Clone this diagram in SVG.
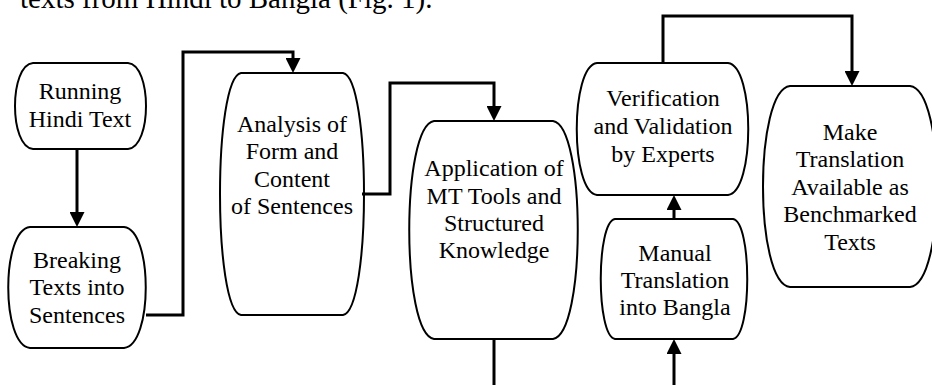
<svg xmlns="http://www.w3.org/2000/svg" width="932" height="385" viewBox="0 0 932 385" font-family="Liberation Serif, Times New Roman, serif">
<style>
  .box { fill: #fff; stroke: #000; stroke-width: 2; stroke-linejoin: round; }
  .lbl { font-size: 24px; fill: #000; text-anchor: middle; }
  .body { font-size: 29px; fill: #000; }
  .conn { fill: none; stroke: #000; stroke-width: 3; stroke-linejoin: miter; }
</style>
<defs>
  <marker id="arr" markerUnits="userSpaceOnUse" viewBox="0 0 15 15" markerWidth="15" markerHeight="15" refX="7" refY="7.5" orient="auto">
    <path d="M0,0 L15,7.5 L0,15 Z" fill="#000"/>
  </marker>
</defs>
<rect width="932" height="385" fill="#fff"/>
<text class="body" x="20" y="7.5">texts from Hindi to Bangla (Fig. 1).</text>

<g id="n-running">
  <path class="box" d="M33,63 H128 C152,65 152,147 128,149 H33 C9,147 9,65 33,63 Z"/>
  <text class="lbl" x="80" y="99">Running</text>
  <text class="lbl" x="80" y="126.5">Hindi Text</text>
</g>
<g id="n-breaking">
  <path class="box" d="M30,227 H124 C153,230 153,345 124,348 H30 C1,345 1,230 30,227 Z"/>
  <text class="lbl" x="77" y="267.5">Breaking</text>
  <text class="lbl" x="77" y="295">Texts into</text>
  <text class="lbl" x="77" y="322.5">Sentences</text>
</g>
<g id="n-analysis">
  <path class="box" d="M241,73 H343 C371,78 371,310 343,315 H241 C213,310 213,78 241,73 Z"/>
  <text class="lbl" x="292" y="131.5">Analysis of</text>
  <text class="lbl" x="292" y="159">Form and</text>
  <text class="lbl" x="292" y="186.5">Content</text>
  <text class="lbl" x="292" y="214">of Sentences</text>
</g>
<g id="n-application">
  <path class="box" d="M434,121 H553 C586,126 586,334 553,339 H434 C401,334 401,126 434,121 Z"/>
  <text class="lbl" x="494" y="176">Application of</text>
  <text class="lbl" x="494" y="203.5">MT Tools and</text>
  <text class="lbl" x="494" y="230.5">Structured</text>
  <text class="lbl" x="494" y="257.5">Knowledge</text>
</g>
<g id="n-verification">
  <path class="box" d="M597,63 H728 C755,66 755,192 728,195 H597 C570,192 570,66 597,63 Z"/>
  <text class="lbl" x="663" y="106">Verification</text>
  <text class="lbl" x="663" y="134">and Validation</text>
  <text class="lbl" x="663" y="161.5">by Experts</text>
</g>
<g id="n-manual">
  <path class="box" d="M615,219 H733 C752,222 752,336 733,339 H615 C596,336 596,222 615,219 Z"/>
  <text class="lbl" x="675" y="260.5">Manual</text>
  <text class="lbl" x="675" y="288">Translation</text>
  <text class="lbl" x="675" y="315">into Bangla</text>
</g>
<g id="n-make">
  <path class="box" d="M790,86 H910 C946,90 946,283 910,287 H790 C754,283 754,90 790,86 Z"/>
  <text class="lbl" x="850" y="139.5">Make</text>
  <text class="lbl" x="850" y="167">Translation</text>
  <text class="lbl" x="850" y="194.5">Available as</text>
  <text class="lbl" x="850" y="222">Benchmarked</text>
  <text class="lbl" x="850" y="249.5">Texts</text>
</g>

<g id="connectors">
  <path id="c1" class="conn" d="M77,149 V219" marker-end="url(#arr)"/>
  <path id="c2" class="conn" d="M146,315 H183 V52 H293 V65" marker-end="url(#arr)"/>
  <path id="c3" class="conn" d="M362,194 H390 V83 H494 V113" marker-end="url(#arr)"/>
  <path id="c4" class="conn" d="M494,339 V385"/>
  <path id="c5" class="conn" d="M674,385 V347" marker-end="url(#arr)"/>
  <path id="c6" class="conn" d="M674,219 V203" marker-end="url(#arr)"/>
  <path id="c7" class="conn" d="M663,63 V16 H852 V78" marker-end="url(#arr)"/>
</g>
</svg>
